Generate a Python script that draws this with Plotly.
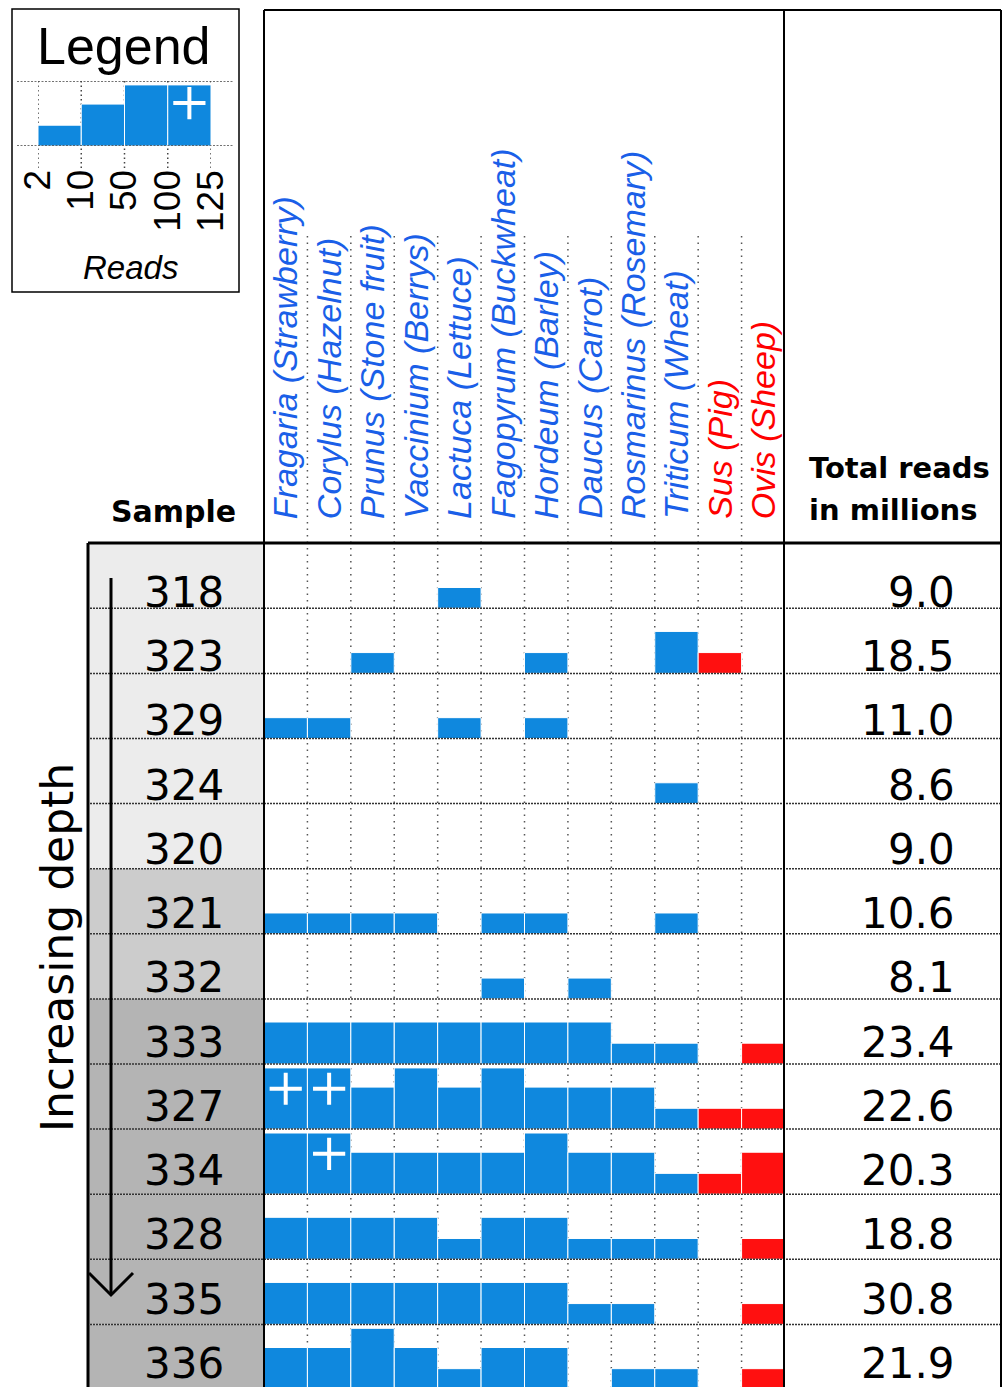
import plotly.graph_objects as go

W, H = 1006, 1387

# ---------------- data ----------------
genus = ["Fragaria", "Corylus", "Prunus", "Vaccinium", "Lactuca", "Fagopyrum",
         "Hordeum", "Daucus", "Rosmarinus", "Triticum", "Sus", "Ovis"]
common = ["Strawberry", "Hazelnut", "Stone fruit", "Berrys", "Lettuce", "Buckwheat",
          "Barley", "Carrot", "Rosemary", "Wheat", "Pig", "Sheep"]
kingdom = ["plant"] * 10 + ["animal"] * 2

samples = ["318", "323", "329", "324", "320", "321", "332",
           "333", "327", "334", "328", "335", "336"]
depth_zone = [0, 0, 0, 0, 0, 1, 1, 2, 2, 2, 2, 2, 2]
total_reads_millions = [9.0, 18.5, 11.0, 8.6, 9.0, 10.6, 8.1,
                        23.4, 22.6, 20.3, 18.8, 30.8, 21.9]

# read class per sample (rows) and taxon (columns)
# 0 = none, 1 = 2-10, 2 = 10-50, 3 = 50-100, 4 = 100-125+ reads (shown with +)
read_class = [
    [0, 0, 0, 0, 1, 0, 0, 0, 0, 0, 0, 0],  # 318
    [0, 0, 1, 0, 0, 0, 1, 0, 0, 2, 1, 0],  # 323
    [1, 1, 0, 0, 1, 0, 1, 0, 0, 0, 0, 0],  # 329
    [0, 0, 0, 0, 0, 0, 0, 0, 0, 1, 0, 0],  # 324
    [0, 0, 0, 0, 0, 0, 0, 0, 0, 0, 0, 0],  # 320
    [1, 1, 1, 1, 0, 1, 1, 0, 0, 1, 0, 0],  # 321
    [0, 0, 0, 0, 0, 1, 0, 1, 0, 0, 0, 0],  # 332
    [2, 2, 2, 2, 2, 2, 2, 2, 1, 1, 0, 1],  # 333
    [4, 4, 2, 3, 2, 3, 2, 2, 2, 1, 1, 1],  # 327
    [3, 4, 2, 2, 2, 2, 3, 2, 2, 1, 1, 2],  # 334
    [2, 2, 2, 2, 1, 2, 2, 1, 1, 1, 0, 1],  # 328
    [2, 2, 2, 2, 2, 2, 2, 1, 1, 0, 0, 1],  # 335
    [2, 2, 3, 2, 1, 2, 2, 0, 1, 1, 0, 1],  # 336
]

legend_classes = [1, 2, 3, 4]
legend_ticks = ["2", "10", "50", "100", "125"]

# ---------------- styles ----------------
class_height = {0: 0.0, 1: 0.32, 2: 0.645, 3: 0.94, 4: 0.94}
bar_color = {"plant": "#0f88de", "animal": "#ff1010"}
label_color = {"plant": "#1a5fe8", "animal": "#ff0000"}
zone_color = ["#ececec", "#cccccc", "#b4b4b4"]
NUM_FONT = "DejaVu Sans"
ARIAL = "Liberation Sans"


def px(x):
    return x / W


def py(y):
    return 1 - y / H


ROW_TOP = 543.2
ROW_H = 65.1        # pixel height of a bar row
LABEL_H = 64.25     # pixel spacing of the sample / total text lines
n_rows = len(samples)

fig = go.Figure()

# sample column backgrounds (depth zones)
fig.add_trace(go.Bar(
    x=[0.5] * n_rows, y=[1] * n_rows, base=list(range(n_rows)), width=1,
    marker=dict(color=[zone_color[z] for z in depth_zone], line=dict(width=0)),
    xaxis="x2", yaxis="y", hoverinfo="skip"))

# main bars
bx, by, bb, bc = [], [], [], []
px_x, px_y = [], []
for i, row in enumerate(read_class):
    for j, c in enumerate(row):
        if c > 0:
            bx.append(j)
            by.append(-class_height[c])
            bb.append(i + 1)
            bc.append(bar_color[kingdom[j]])
        if c == 4:
            px_x.append(j)
            px_y.append(i + 0.38)
fig.add_trace(go.Bar(
    x=bx, y=by, base=bb, width=1,
    marker=dict(color=bc, line=dict(color="white", width=1)),
    xaxis="x", yaxis="y", hoverinfo="skip"))
fig.add_trace(go.Scatter(
    x=px_x, y=px_y, mode="markers",
    marker=dict(symbol="cross-thin", size=23, line=dict(color="white", width=4)),
    xaxis="x", yaxis="y", hoverinfo="skip"))

# legend mini chart
fig.add_trace(go.Bar(
    x=[k - 0.5 for k in legend_classes], y=[-class_height[c] for c in legend_classes],
    base=[1] * len(legend_classes), width=1,
    marker=dict(color=bar_color["plant"], line=dict(color="white", width=1)),
    xaxis="x4", yaxis="y4", hoverinfo="skip"))
fig.add_trace(go.Scatter(
    x=[k - 0.5 for k in legend_classes if k == 4], y=[0.34], mode="markers",
    marker=dict(symbol="cross-thin", size=23, line=dict(color="white", width=4)),
    xaxis="x4", yaxis="y4", hoverinfo="skip"))

shapes = []
annotations = []

# dotted column separators (data + header)
for j in range(len(genus) - 1):
    shapes.append(dict(type="line", xref="x", yref="paper", x0=j + 0.5, x1=j + 0.5,
                       y0=py(236), y1=0, layer="below",
                       line=dict(color="#555555", width=1.5, dash="1.5px,5px")))
# dotted row separators
for i in range(1, n_rows):
    shapes.append(dict(type="line", xref="paper", yref="y", x0=px(90), x1=px(1001),
                       y0=i, y1=i, layer="above",
                       line=dict(color="#333333", width=1.5, dash="2px,1px")))

# frames
solid = dict(color="black", width=2)
shapes += [
    dict(type="line", xref="paper", yref="paper", x0=px(264), x1=px(1001), y0=py(10), y1=py(10), line=solid),
    dict(type="line", xref="paper", yref="paper", x0=px(264), x1=px(264), y0=py(10), y1=0, line=solid),
    dict(type="line", xref="paper", yref="paper", x0=px(784), x1=px(784), y0=py(10), y1=0, line=solid),
    dict(type="line", xref="paper", yref="paper", x0=px(1001), x1=px(1001), y0=py(10), y1=0, line=solid),
    dict(type="line", xref="paper", yref="paper", x0=px(88), x1=px(1001), y0=py(543), y1=py(543),
         line=dict(color="black", width=3)),
    dict(type="line", xref="paper", yref="paper", x0=px(88), x1=px(88), y0=py(543), y1=0,
         line=dict(color="black", width=3)),
    # legend box
    dict(type="rect", xref="paper", yref="paper", x0=px(12), x1=px(239), y0=py(292), y1=py(9),
         line=dict(color="black", width=1.5)),
    # depth arrow
    dict(type="line", xref="paper", yref="paper", x0=px(111), x1=px(111), y0=py(578), y1=py(1295),
         line=dict(color="black", width=3)),
    dict(type="path", xref="paper", yref="paper",
         path=f"M {px(89)} {py(1273)} L {px(111)} {py(1295)} L {px(133)} {py(1273)}",
         line=dict(color="black", width=3)),
]
# legend dotted grid
for yv in [0, 1]:
    shapes.append(dict(type="line", xref="paper", yref="y4", x0=px(17), x1=px(234), y0=yv, y1=yv,
                       line=dict(color="#444444", width=1.5, dash="2px,1.5px")))
for k in range(len(legend_ticks)):
    shapes.append(dict(type="line", xref="x4", yref="paper", x0=k, x1=k, y0=py(81), y1=py(168),
                       layer="below", line=dict(color="#444444", width=1.5, dash="1.5px,3px")))

# legend tick labels
for k, t in enumerate(legend_ticks):
    annotations.append(dict(x=k, y=py(168), xref="x4", yref="paper", text=t, showarrow=False,
                            textangle=-90, xanchor="center", yanchor="top", xshift=-1,
                            font=dict(family=ARIAL, size=37, color="black")))

# header taxa labels
for j, (g, cn) in enumerate(zip(genus, common)):
    annotations.append(dict(x=j, y=py(521), xref="x", yref="paper",
                            text=f"<i>{g} ({cn})</i>", showarrow=False, textangle=-90,
                            xanchor="center", yanchor="bottom",
                            font=dict(family=ARIAL, size=34, color=label_color[kingdom[j]])))

# sample labels and totals (text lines on their own slightly tighter scale, y5)
for i, (s, t) in enumerate(zip(samples, total_reads_millions)):
    annotations.append(dict(x=0.543, y=i + 0.5, xref="x2", yref="y5", text=s, showarrow=False,
                            xanchor="center", yanchor="middle", yshift=-17,
                            font=dict(family=NUM_FONT, size=42, color="black")))
    annotations.append(dict(x=0.796, y=i + 0.5, xref="x3", yref="y5", text=f"{t:.1f}", showarrow=False,
                            xanchor="right", yanchor="middle", yshift=-17,
                            font=dict(family=NUM_FONT, size=42, color="black")))

# titles
annotations += [
    dict(x=px(124), y=py(64), xref="paper", yref="paper", text="Legend", showarrow=False,
         xanchor="center", yanchor="bottom", yshift=-13, font=dict(family=ARIAL, size=52, color="black")),
    dict(x=px(130), y=py(279), xref="paper", yref="paper", text="<i>Reads</i>", showarrow=False,
         xanchor="center", yanchor="bottom", yshift=-9, font=dict(family=ARIAL, size=33, color="black")),
    dict(x=px(173), y=py(522), xref="paper", yref="paper", text="<b>Sample</b>", showarrow=False,
         xanchor="center", yanchor="bottom", yshift=-9, font=dict(family=NUM_FONT, size=30, color="black")),
    dict(x=px(807), y=py(478), xref="paper", yref="paper", text="<b>Total reads</b>", showarrow=False,
         xanchor="left", yanchor="bottom", yshift=-9, font=dict(family=NUM_FONT, size=29, color="black")),
    dict(x=px(807), y=py(520), xref="paper", yref="paper", text="<b>in millions</b>", showarrow=False,
         xanchor="left", yanchor="bottom", yshift=-9, font=dict(family=NUM_FONT, size=29, color="black")),
    dict(x=px(57), y=py(948), xref="paper", yref="paper", text="Increasing depth", showarrow=False,
         textangle=-90, xanchor="center", yanchor="middle",
         font=dict(family=NUM_FONT, size=44, color="black")),
]

hidden = dict(visible=False, showgrid=False, zeroline=False, fixedrange=True)
y_bottom = (H - ROW_TOP) / ROW_H
y_label_bottom = (H - ROW_TOP) / LABEL_H
fig.update_layout(
    width=W, height=H, margin=dict(l=0, r=0, t=0, b=0),
    paper_bgcolor="white", plot_bgcolor="rgba(0,0,0,0)",
    showlegend=False, barmode="overlay",
    xaxis=dict(domain=[px(264), px(785)], range=[-0.5, len(genus) - 0.5], anchor="y", **hidden),
    xaxis2=dict(domain=[px(89), px(264)], range=[0, 1], anchor="y", **hidden),
    xaxis3=dict(domain=[px(785), px(1001)], range=[0, 1], anchor="y", **hidden),
    yaxis=dict(domain=[0, py(ROW_TOP)], range=[y_bottom, 0], anchor="x", **hidden),
    yaxis5=dict(domain=[0, py(ROW_TOP)], range=[y_label_bottom, 0], anchor="x2",
                overlaying="y", **hidden),
    xaxis4=dict(domain=[px(38), px(211)], range=[0, len(legend_classes)], anchor="y4", **hidden),
    yaxis4=dict(domain=[py(146), py(81)], range=[1, 0], anchor="x4", **hidden),
    shapes=shapes, annotations=annotations,
)

fig.write_html("out.html", config={"displayModeBar": False},
               post_script="document.body.style.margin='0';")
